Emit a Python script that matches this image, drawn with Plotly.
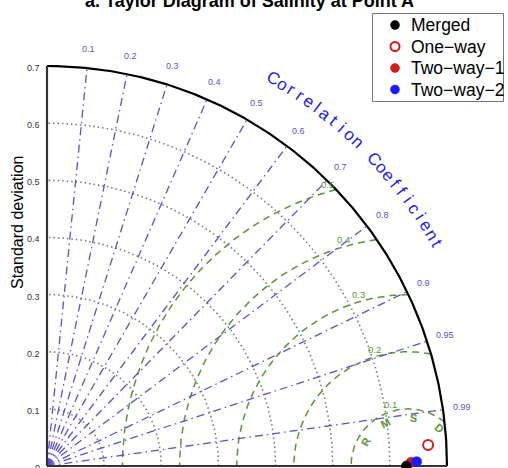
import numpy as np
import plotly.graph_objects as go

# ---- data -------------------------------------------------------------
models = ["One−way", "Two−way−1", "Two−way−2", "Merged"]
std_dev = [0.668, 0.637, 0.647, 0.629]
corr_coef = [0.99848, 0.99995, 0.99993, 1.0]
marker_fill = ["white", "#d01c1c", "#1a1aff", "black"]
marker_edge = ["#d01c1c", "#d01c1c", "#1a1aff", "black"]

ref_std = 0.632
max_std = 0.7
std_ticks = [0, 0.1, 0.2, 0.3, 0.4, 0.5, 0.6, 0.7]
std_circles = [0.1, 0.2, 0.3, 0.4, 0.5, 0.6]
corr_ticks = [0.1, 0.2, 0.3, 0.4, 0.5, 0.6, 0.7, 0.8, 0.9, 0.95, 0.99]
rmsd_levels = [0.1, 0.2, 0.3, 0.4, 0.5]

legend_order = ["Merged", "One−way", "Two−way−1", "Two−way−2"]

# ---- styling ----------------------------------------------------------
W, H = 508, 468
SCALE = 571.4          # pixels per unit of standard deviation
OX, OY = 47, 466       # pixel position of the origin
FONT = "Liberation Sans, Arial, Helvetica, sans-serif"
BLUE_LINE = "#5b50d8"
GREEN = "#5a9636"
GRAY = "#7a7a7a"

fig = go.Figure()


def line(x, y, color, width, dash=None):
    fig.add_trace(go.Scatter(x=x, y=y, mode="lines", hoverinfo="skip",
                             showlegend=False,
                             line=dict(color=color, width=width, dash=dash)))


# standard deviation circles (dotted)
t = np.linspace(0, np.pi / 2, 200)
for s in std_circles:
    line(s * np.cos(t), s * np.sin(t), GRAY, 1.6, "1.5px,3px")

# RMSD circles around the reference point
for r in rmsd_levels:
    xi = (max_std ** 2 + ref_std ** 2 - r ** 2) / (2 * ref_std)
    yi = np.sqrt(max(max_std ** 2 - xi ** 2, 0))
    a0 = np.arctan2(yi, xi - ref_std)
    a = np.linspace(a0, np.pi, 200)
    line(ref_std + r * np.cos(a), r * np.sin(a), GREEN, 1.5, "7px,5px")

# correlation rays
for c in corr_ticks:
    th = np.arccos(c)
    line([0, max_std * np.cos(th)], [0, max_std * np.sin(th)],
         BLUE_LINE, 1.3, "8px,4px,1.5px,4px")

# outer arc and axes
line(max_std * np.cos(t), max_std * np.sin(t), "black", 2.2)
line([0, 0], [0, max_std], "#333333", 2.2)
line([0, max_std], [0, 0], "#333333", 2.2)

# model points
for name, s, c, fc, ec in zip(models, std_dev, corr_coef, marker_fill, marker_edge):
    th = np.arccos(c)
    fig.add_trace(go.Scatter(
        x=[s * np.cos(th)], y=[s * np.sin(th)], mode="markers", name=name,
        showlegend=False, cliponaxis=False,
        marker=dict(size=10, color=fc, line=dict(color=ec, width=2 if fc == "white" else 0.5))))

ann = []

# std tick labels
for v in std_ticks:
    ann.append(dict(x=-0.008, y=v, xref="x", yref="y", text=f"{v:g}",
                    showarrow=False, xanchor="right", yanchor="middle",
                    yshift=-2, font=dict(family=FONT, size=9, color="#333333")))

# correlation labels
for c in corr_ticks:
    th = np.arccos(c)
    rr = 0.733
    ann.append(dict(x=rr * np.cos(th), y=rr * np.sin(th), xref="x", yref="y",
                    text=f"{c:g}", showarrow=False,
                    font=dict(family=FONT, size=9, color=BLUE_LINE)))

# RMSD level labels
for r in rmsd_levels:
    ph = np.radians(106)
    ann.append(dict(x=ref_std + (r + 0.012) * np.cos(ph),
                    y=(r + 0.012) * np.sin(ph), xref="x", yref="y",
                    text=f"{r:g}", showarrow=False,
                    font=dict(family=FONT, size=9.5, color=GREEN)))

# "RMSD" along the innermost circle
for ch, ph in zip("RMSD", [150.6, 117.8, 83.8, 50.6]):
    p = np.radians(ph)
    ann.append(dict(x=ref_std + 0.085 * np.cos(p), y=0.085 * np.sin(p),
                    xref="x", yref="y", text=f"<b>{ch}</b>", showarrow=False,
                    textangle=90 - ph,
                    font=dict(family=FONT, size=11, color=GREEN)))

# "Correlation Coefficient" curved along the outer arc
label = "Correlation Coefficient"
arc_r = 0.785
start, end = 59.7, 29.7
advances = [0.0]
for i in range(1, len(label)):
    if label[i] == " ":
        continue
    gap = 2.35 if label[i - 1] == " " else 1.0
    advances.append(advances[-1] + gap)
total = advances[-1]
k = 0
for ch in label:
    if ch == " ":
        continue
    th = start - (start - end) * advances[k] / total
    k += 1
    tr = np.radians(th)
    ann.append(dict(x=arc_r * np.cos(tr), y=arc_r * np.sin(tr), xref="x", yref="y",
                    text=ch, showarrow=False, textangle=90 - th,
                    font=dict(family=FONT, size=17, color="#1c1cf0")))

# axis title
ann.append(dict(x=17, y=223, xref="x2", yref="y2", text="Standard deviation",
                showarrow=False, textangle=-90,
                font=dict(family=FONT, size=16, color="black")))

# chart title (partly above the page)
ann.append(dict(x=249, y=1, xref="x2", yref="y2",
                text="<b>a. Taylor Diagram of Salinity at Point A</b>",
                showarrow=False, yanchor="middle",
                font=dict(family=FONT, size=18, color="black")))

# legend box
shapes = [dict(type="rect", xref="x2", yref="y2", x0=372.5, y0=13.5, x1=503.5, y1=101.5,
               line=dict(color="#777777", width=1), fillcolor="white", layer="below")]
leg_y = [25, 46.5, 68, 89.5]
style = dict(zip(models, zip(marker_fill, marker_edge)))
for name, yy in zip(legend_order, leg_y):
    fc, ec = style[name]
    fig.add_trace(go.Scatter(
        x=[395], y=[yy], xaxis="x2", yaxis="y2", mode="markers", showlegend=False,
        hoverinfo="skip",
        marker=dict(size=9, color=fc, line=dict(color=ec, width=2 if fc == "white" else 0.5))))
    ann.append(dict(x=409, y=yy, xref="x2", yref="y2", text=name, showarrow=False,
                    xanchor="left", yanchor="middle",
                    font=dict(family=FONT, size=17.5, color="black")))

fig.update_layout(
    width=W, height=H, margin=dict(l=0, r=0, t=0, b=0),
    paper_bgcolor="white", plot_bgcolor="white", showlegend=False,
    xaxis=dict(range=[-OX / SCALE, (W - OX) / SCALE], visible=False, fixedrange=True),
    yaxis=dict(range=[-(H - OY) / SCALE, OY / SCALE], visible=False, fixedrange=True),
    xaxis2=dict(range=[0, W], overlaying="x", visible=False, fixedrange=True),
    yaxis2=dict(range=[H, 0], overlaying="y", visible=False, fixedrange=True),
    annotations=ann, shapes=shapes,
)

fig.write_html("out.html")
